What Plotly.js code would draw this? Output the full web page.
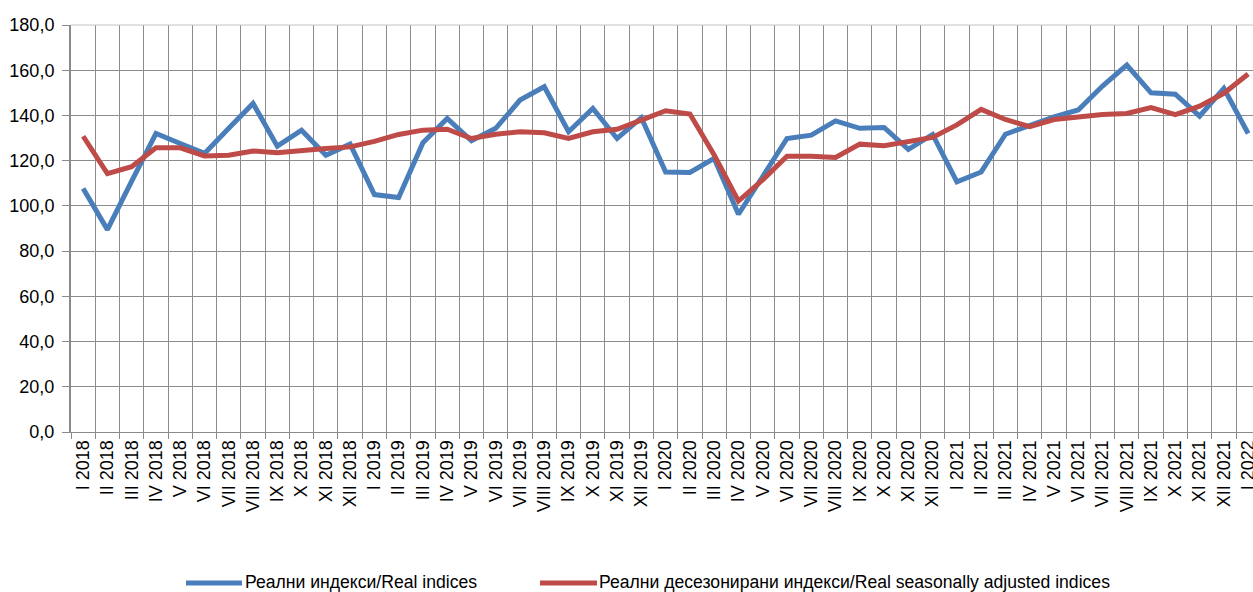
<!DOCTYPE html>
<html>
<head>
<meta charset="utf-8">
<script src="https://cdn.plot.ly/plotly-3.0.1.min.js"></script>
<style>
html,body{margin:0;padding:0;background:#fff;}
#chart{width:1253px;height:592px;}
</style>
</head>
<body>
<div id="chart"></div>
<script>
const categories = [
  "I 2018","II 2018","III 2018","IV 2018","V 2018","VI 2018","VII 2018","VIII 2018","IX 2018","X 2018","XI 2018","XII 2018",
  "I 2019","II 2019","III 2019","IV 2019","V 2019","VI 2019","VII 2019","VIII 2019","IX 2019","X 2019","XI 2019","XII 2019",
  "I 2020","II 2020","III 2020","IV 2020","V 2020","VI 2020","VII 2020","VIII 2020","IX 2020","X 2020","XI 2020","XII 2020",
  "I 2021","II 2021","III 2021","IV 2021","V 2021","VI 2021","VII 2021","VIII 2021","IX 2021","X 2021","XI 2021","XII 2021",
  "I 2022"
];
const realIndices = [
  107.7, 89.5, 111.0, 132.0, 127.6, 123.2, 134.3, 145.3, 126.4, 133.5, 122.4, 127.3,
  105.0, 103.7, 127.9, 138.7, 128.8, 134.3, 146.8, 152.7, 132.8, 143.1, 129.8, 139.0,
  115.0, 114.8, 121.0, 96.3, 113.0, 129.8, 131.3, 137.6, 134.3, 134.7, 125.0, 131.6,
  110.6, 115.0, 131.7, 135.3, 139.4, 142.4, 153.0, 162.3, 150.0, 149.4, 139.7, 152.0,
  132.0
];
const seasonallyAdjusted = [
  130.8, 114.3, 117.3, 125.7, 125.7, 122.1, 122.4, 124.3, 123.5, 124.7, 125.4, 126.1,
  128.5, 131.6, 133.5, 133.9, 129.8, 131.7, 132.8, 132.3, 129.8, 132.8, 133.9, 137.9,
  142.1, 140.6, 122.5, 102.1, 111.5, 122.0, 122.0, 121.4, 127.3, 126.6, 128.3, 130.3,
  135.8, 142.7, 138.2, 135.0, 138.2, 139.4, 140.4, 140.9, 143.5, 140.4, 144.1, 149.8,
  158.3
];
const seriesNames = ["Реални индекси/Real indices", "Реални десезонирани индекси/Real seasonally adjusted indices"];
const seriesColors = ["#4A7EBB", "#BE4B48"];
const yTicks = [0, 20, 40, 60, 80, 100, 120, 140, 160, 180];

const W = 1253, H = 592, ML = 71, MR = 0, MT = 25, MB = 160;
const plotW = W - ML - MR, plotH = H - MT - MB;
const px = v => (v - ML) / plotW;
const py = v => (H - MB - v) / plotH;

const traces = [realIndices, seasonallyAdjusted].map((vals, k) => ({
  type: "scatter", mode: "lines", x: categories, y: vals, name: seriesNames[k],
  line: {color: seriesColors[k], width: 5}, showlegend: false, hoverinfo: "x+y"
}));

// custom legend (line samples + texts)
const legendItems = [
  {x0: 186, x1: 242, tx: 243},
  {x0: 540, x1: 597, tx: 597}
];
const legendY = 582;
const shapes = legendItems.map((it, k) => ({
  type: "line", xref: "paper", yref: "paper",
  x0: px(it.x0), x1: px(it.x1), y0: py(legendY + 1), y1: py(legendY + 1),
  line: {color: seriesColors[k], width: 5}
}));
shapes.push({type: "line", xref: "paper", yref: "paper", x0: 0, x1: 1, y0: 1, y1: 1,
  line: {color: "#c4c4c4", width: 1}});
const annotations = legendItems.map((it, k) => ({
  xref: "paper", yref: "paper", x: px(it.tx), y: py(legendY), xanchor: "left", yanchor: "middle",
  text: seriesNames[k], showarrow: false, font: {size: 17.6, color: "#000"}
}));

const layout = {
  width: W, height: H,
  margin: {l: ML, r: MR, t: MT, b: MB, pad: 0},
  paper_bgcolor: "#fff", plot_bgcolor: "#fff",
  font: {family: "Liberation Sans, Arial, sans-serif", size: 18, color: "#000"},
  separators: ", ",
  showlegend: false,
  xaxis: {
    type: "category", range: [-0.5, 48.2],
    tickmode: "array", tickvals: categories, ticktext: categories,
    tickangle: -90, tickson: "boundaries",
    ticks: "outside", ticklen: 6, tickcolor: "#8a8a8a", tickwidth: 1,
    showgrid: true, gridcolor: "#8c8c8c", gridwidth: 1,
    showline: true, linecolor: "#8a8a8a", linewidth: 1,
    zeroline: false, fixedrange: true,
    tickfont: {size: 18, color: "#000"}
  },
  yaxis: {
    range: [0, 180], tickmode: "array", tickvals: yTicks, tickformat: ".1f",
    ticks: "outside", ticklen: 7, tickcolor: "#8a8a8a", tickwidth: 1,
    showgrid: true, gridcolor: "#8c8c8c", gridwidth: 1,
    showline: true, linecolor: "#8a8a8a", linewidth: 2,
    zeroline: false, fixedrange: true, ticklabelstandoff: 4,
    tickfont: {size: 18, color: "#000"}
  },
  shapes: shapes,
  annotations: annotations
};

Plotly.newPlot("chart", traces, layout, {displayModeBar: false, staticPlot: true});
</script>
</body>
</html>
